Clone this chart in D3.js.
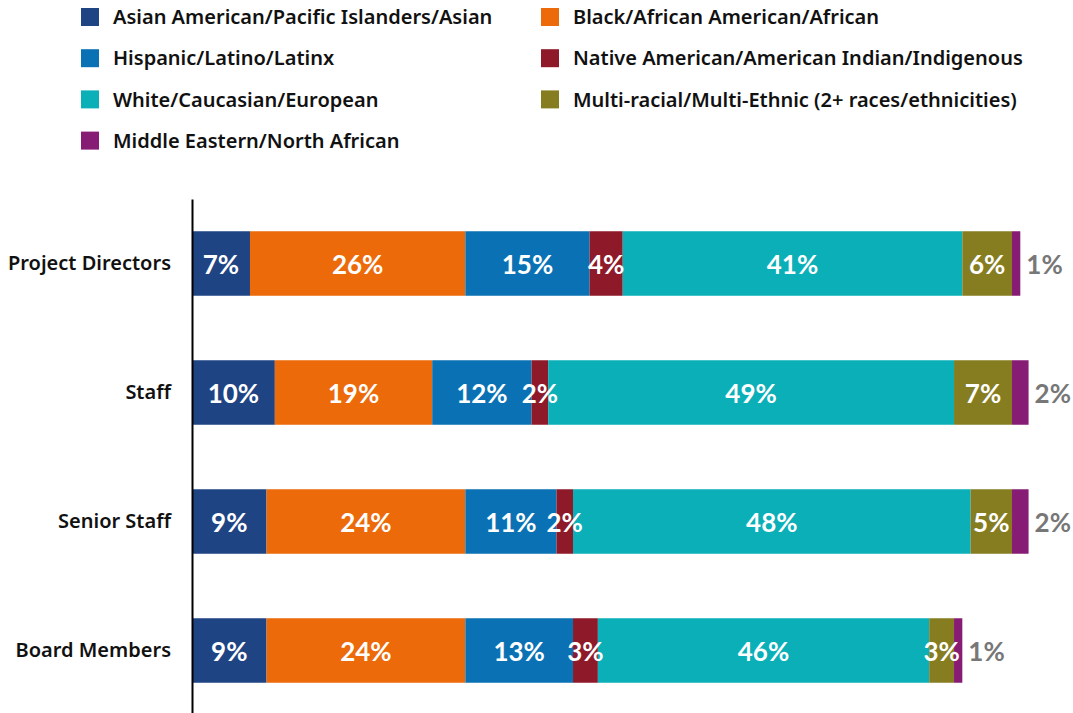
<!DOCTYPE html>
<html lang="en">
<head>
  <meta charset="UTF-8">
  <title>Race / ethnicity by role</title>
  <script src="https://cdn.jsdelivr.net/npm/d3@7"></script>
  <style>
    body { margin: 0; background: #fff; }
    .legend text, .cat text { font-family: "Noto Sans", Roboto, sans-serif; font-weight: 600; fill: #111; }
    .val { font-family: Lato, sans-serif; font-weight: 700; }
  </style>
</head>
<body>
  <div id="main" style="width:1073px;height:713px"></div>
  <script>
    // data
    var roles = ["Project Directors", "Staff", "Senior Staff", "Board Members"];
    var groups = [
      "Asian American/Pacific Islanders/Asian",
      "Black/African American/African",
      "Hispanic/Latino/Latinx",
      "Native American/American Indian/Indigenous",
      "White/Caucasian/European",
      "Multi-racial/Multi-Ethnic (2+ races/ethnicities)",
      "Middle Eastern/North African"
    ];
    var colors = ["#1F4484", "#EC6A0A", "#0A72B4", "#8E1A29", "#0AAFB8", "#867D20", "#871C75"];
    // segment widths (%) as drawn
    var projectDirectors = [7, 26, 15, 4, 41, 6, 1];
    var staff = [10, 19, 12, 2, 49, 7, 2];
    var seniorStaff = [9, 24, 11, 2, 48, 5, 2];
    var boardMembers = [9, 24, 13, 3, 40, 3, 1];
    // printed labels (board white label differs from its drawn width)
    var projectDirectorsLabels = ["7%", "26%", "15%", "4%", "41%", "6%", "1%"];
    var staffLabels = ["10%", "19%", "12%", "2%", "49%", "7%", "2%"];
    var seniorStaffLabels = ["9%", "24%", "11%", "2%", "48%", "5%", "2%"];
    var boardMembersLabels = ["9%", "24%", "13%", "3%", "46%", "3%", "1%"];

    var values = [projectDirectors, staff, seniorStaff, boardMembers];
    var labels = [projectDirectorsLabels, staffLabels, seniorStaffLabels, boardMembersLabels];

    var width = 1073, height = 713;
    var svg = d3.select("#main").append("svg")
      .attr("width", width)
      .attr("height", height);

    var x = d3.scaleLinear().domain([0, 100]).range([192, 1020.3]);
    var y = d3.scaleBand().domain(roles).range([199, 715])
      .paddingInner(0.5).paddingOuter(0.25);

    // legend, two columns
    var legend = svg.append("g").attr("class", "legend");
    var lg = legend.selectAll("g").data(groups).enter().append("g")
      .attr("transform", function (d, i) {
        var col = i % 2, row = Math.floor(i / 2);
        return "translate(" + (col ? 541 : 81) + "," + (8 + row * 41.2) + ")";
      });
    lg.append("rect")
      .attr("width", 18).attr("height", 18)
      .attr("fill", function (d, i) { return colors[i]; });
    lg.append("text")
      .attr("x", 32).attr("y", 9).attr("dy", "0.36em")
      .style("font-size", "20px")
      .text(function (d) { return d; });

    // stacked rows
    var rows = svg.selectAll(".row").data(roles).enter().append("g")
      .attr("class", "row")
      .attr("transform", function (d) { return "translate(0," + y(d) + ")"; });

    rows.each(function (role, r) {
      var g = d3.select(this);
      var acc = 0;
      var segs = values[r].map(function (v, i) {
        var s = { x0: acc, x1: acc + v, i: i, label: labels[r][i] };
        acc += v;
        return s;
      });
      g.selectAll("rect").data(segs).enter().append("rect")
        .attr("x", function (d) { return x(d.x0); })
        .attr("width", function (d) { return x(d.x1) - x(d.x0); })
        .attr("height", y.bandwidth())
        .attr("fill", function (d) { return colors[d.i]; });

      g.selectAll("text").data(segs).enter().append("text")
        .attr("class", "val")
        .attr("x", function (d) {
          return d.i === 6 ? x(d.x1) + 6 : (x(d.x0) + x(d.x1)) / 2;
        })
        .attr("y", y.bandwidth() / 2 + 1.5)
        .attr("dy", "0.36em")
        .attr("text-anchor", function (d) { return d.i === 6 ? "start" : "middle"; })
        .style("font-size", "26px")
        .style("fill", function (d) { return d.i === 6 ? "#777777" : "#ffffff"; })
        .text(function (d) { return d.label; });
    });

    // category axis
    var axis = svg.append("g").attr("class", "cat")
      .attr("transform", "translate(192,0)")
      .call(d3.axisLeft(y).tickSize(0).tickPadding(21));
    axis.select(".domain").attr("stroke", "#000").attr("stroke-width", 2);
    axis.selectAll(".tick text")
      .style("font-size", "20px")
      .attr("dy", "0.3em");
  </script>
</body>
</html>
